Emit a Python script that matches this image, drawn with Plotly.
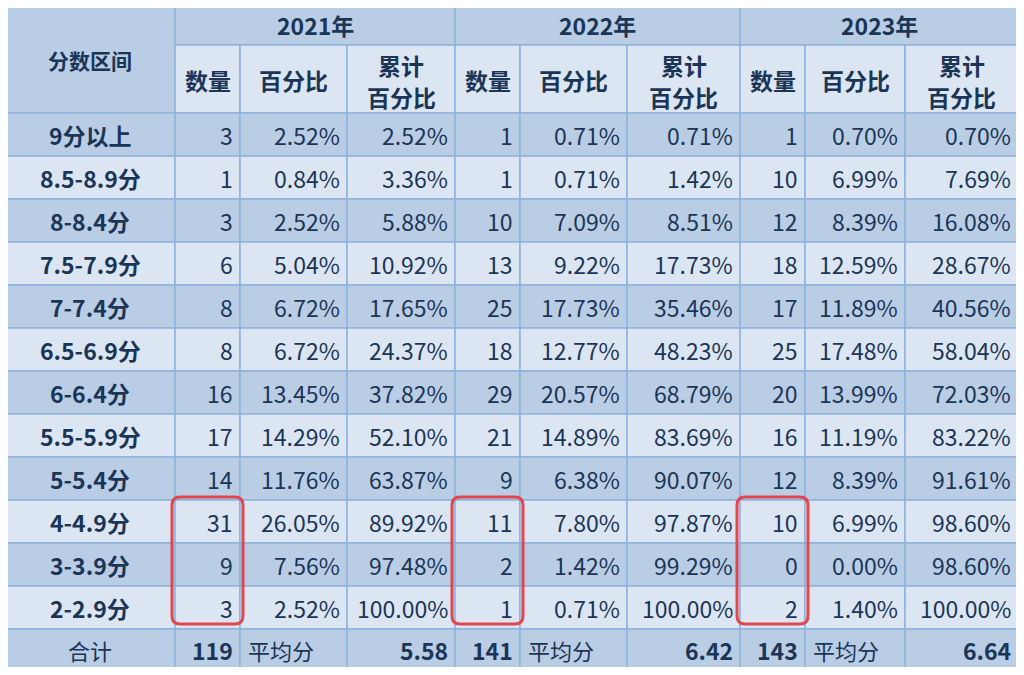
import plotly.graph_objects as go

years = ["2021年", "2022年", "2023年"]
sub_headers = [["数量"], ["百分比"], ["累计", "百分比"]]
ranges = ["9分以上", "8.5-8.9分", "8-8.4分", "7.5-7.9分", "7-7.4分", "6.5-6.9分",
          "6-6.4分", "5.5-5.9分", "5-5.4分", "4-4.9分", "3-3.9分", "2-2.9分"]
count_2021 = [3, 1, 3, 6, 8, 8, 16, 17, 14, 31, 9, 3]
pct_2021 = ["2.52%", "0.84%", "2.52%", "5.04%", "6.72%", "6.72%", "13.45%", "14.29%", "11.76%", "26.05%", "7.56%", "2.52%"]
cum_2021 = ["2.52%", "3.36%", "5.88%", "10.92%", "17.65%", "24.37%", "37.82%", "52.10%", "63.87%", "89.92%", "97.48%", "100.00%"]
count_2022 = [1, 1, 10, 13, 25, 18, 29, 21, 9, 11, 2, 1]
pct_2022 = ["0.71%", "0.71%", "7.09%", "9.22%", "17.73%", "12.77%", "20.57%", "14.89%", "6.38%", "7.80%", "1.42%", "0.71%"]
cum_2022 = ["0.71%", "1.42%", "8.51%", "17.73%", "35.46%", "48.23%", "68.79%", "83.69%", "90.07%", "97.87%", "99.29%", "100.00%"]
count_2023 = [1, 10, 12, 18, 17, 25, 20, 16, 12, 10, 0, 2]
pct_2023 = ["0.70%", "6.99%", "8.39%", "12.59%", "11.89%", "17.48%", "13.99%", "11.19%", "8.39%", "6.99%", "0.00%", "1.40%"]
cum_2023 = ["0.70%", "7.69%", "16.08%", "28.67%", "40.56%", "58.04%", "72.03%", "83.22%", "91.61%", "98.60%", "98.60%", "100.00%"]
totals = [119, 141, 143]
averages = ["5.58", "6.42", "6.64"]
total_label = "合计"
avg_label = "平均分"

cols = [[count_2021, pct_2021, cum_2021], [count_2022, pct_2022, cum_2022], [count_2023, pct_2023, cum_2023]]

xb = [5, 175, 240, 347, 455, 520, 627, 740, 805, 905, 1018]
yb = [5, 45, 113] + [113 + 43 * (i + 1) for i in range(12)] + [670]

DARK = "#b9cde5"
LIGHT = "#dce6f2"
LINE = "#8eb2dc"
TXT = "#1b3556"
FONT = "Noto Sans CJK SC"

shapes = []
ann = []

def rect(x0, y0, x1, y1, fill):
    shapes.append(dict(type="rect", xref="x", yref="y", x0=x0, y0=y0, x1=x1, y1=y1,
                       fillcolor=fill, line=dict(color=LINE, width=1.5), layer="below"))

def text(x, y, t, bold=False, anchor="center", size=23):
    ann.append(dict(x=x, y=y, xref="x", yref="y", text=f"<b>{t}</b>" if bold else t,
                    showarrow=False, xanchor=anchor, yanchor="middle",
                    font=dict(family=FONT, size=size, color=TXT)))

# header
rect(xb[0], yb[0], xb[1], yb[2], DARK)
text((xb[0] + xb[1]) / 2, 60, "分数区间", True, size=21)
for g, yr in enumerate(years):
    a, b = xb[1 + 3 * g], xb[4 + 3 * g]
    rect(a, yb[0], b, yb[1], DARK)
    text((a + b) / 2, (yb[0] + yb[1]) / 2, yr, True)
    for k, h in enumerate(sub_headers):
        c0, c1 = xb[1 + 3 * g + k], xb[2 + 3 * g + k]
        rect(c0, yb[1], c1, yb[2], LIGHT)
        if len(h) == 1:
            text((c0 + c1) / 2, 80, h[0], True)
        else:
            text((c0 + c1) / 2, 65, h[0], True)
            text((c0 + c1) / 2, 97, h[1], True)

# body
for i, r in enumerate(ranges):
    y0, y1 = yb[2 + i], yb[3 + i]
    ym = (y0 + y1) / 2
    fill = DARK if i % 2 == 0 else LIGHT
    rect(xb[0], y0, xb[1], y1, fill)
    text((xb[0] + xb[1]) / 2, ym, r, True)
    for g in range(3):
        for k in range(3):
            c0, c1 = xb[1 + 3 * g + k], xb[2 + 3 * g + k]
            rect(c0, y0, c1, y1, fill)
            text(c1 - 5, ym, str(cols[g][k][i]), anchor="right")

# total row
y0, y1 = yb[14], yb[15]
ym = (y0 + y1) / 2
rect(xb[0], y0, xb[1], y1, DARK)
text((xb[0] + xb[1]) / 2, ym, total_label, size=22)
for g in range(3):
    for k in range(3):
        rect(xb[1 + 3 * g + k], y0, xb[2 + 3 * g + k], y1, DARK)
    text(xb[2 + 3 * g] - 5, ym, str(totals[g]), True, "right")
    text(xb[2 + 3 * g] + 6, ym, avg_label, anchor="left", size=22)
    text(xb[4 + 3 * g] - 5, ym, averages[g], True, "right")

# red highlight boxes
for g in range(3):
    x0, x1 = xb[1 + 3 * g] - 3, xb[2 + 3 * g] + 3
    ya, yz = yb[11] - 3, yb[14] - 5
    r = 8
    path = (f"M {x0+r},{ya} L {x1-r},{ya} Q {x1},{ya} {x1},{ya+r} L {x1},{yz-r} Q {x1},{yz} {x1-r},{yz} "
            f"L {x0+r},{yz} Q {x0},{yz} {x0},{yz-r} L {x0},{ya+r} Q {x0},{ya} {x0+r},{ya} Z")
    shapes.append(dict(type="path", xref="x", yref="y", path=path, line=dict(color="#e0474f", width=3)))

fig = go.Figure()
fig.add_trace(go.Scatter(x=[8, 1016], y=[8, 667], mode="markers", marker=dict(opacity=0), hoverinfo="skip"))
fig.update_layout(width=1008, height=659, margin=dict(l=0, r=0, t=0, b=0),
                  paper_bgcolor="white", plot_bgcolor="white", showlegend=False,
                  shapes=shapes, annotations=ann,
                  xaxis=dict(range=[8, 1016], visible=False, fixedrange=True),
                  yaxis=dict(range=[667, 8], visible=False, fixedrange=True))
fig.write_html("out.html")
